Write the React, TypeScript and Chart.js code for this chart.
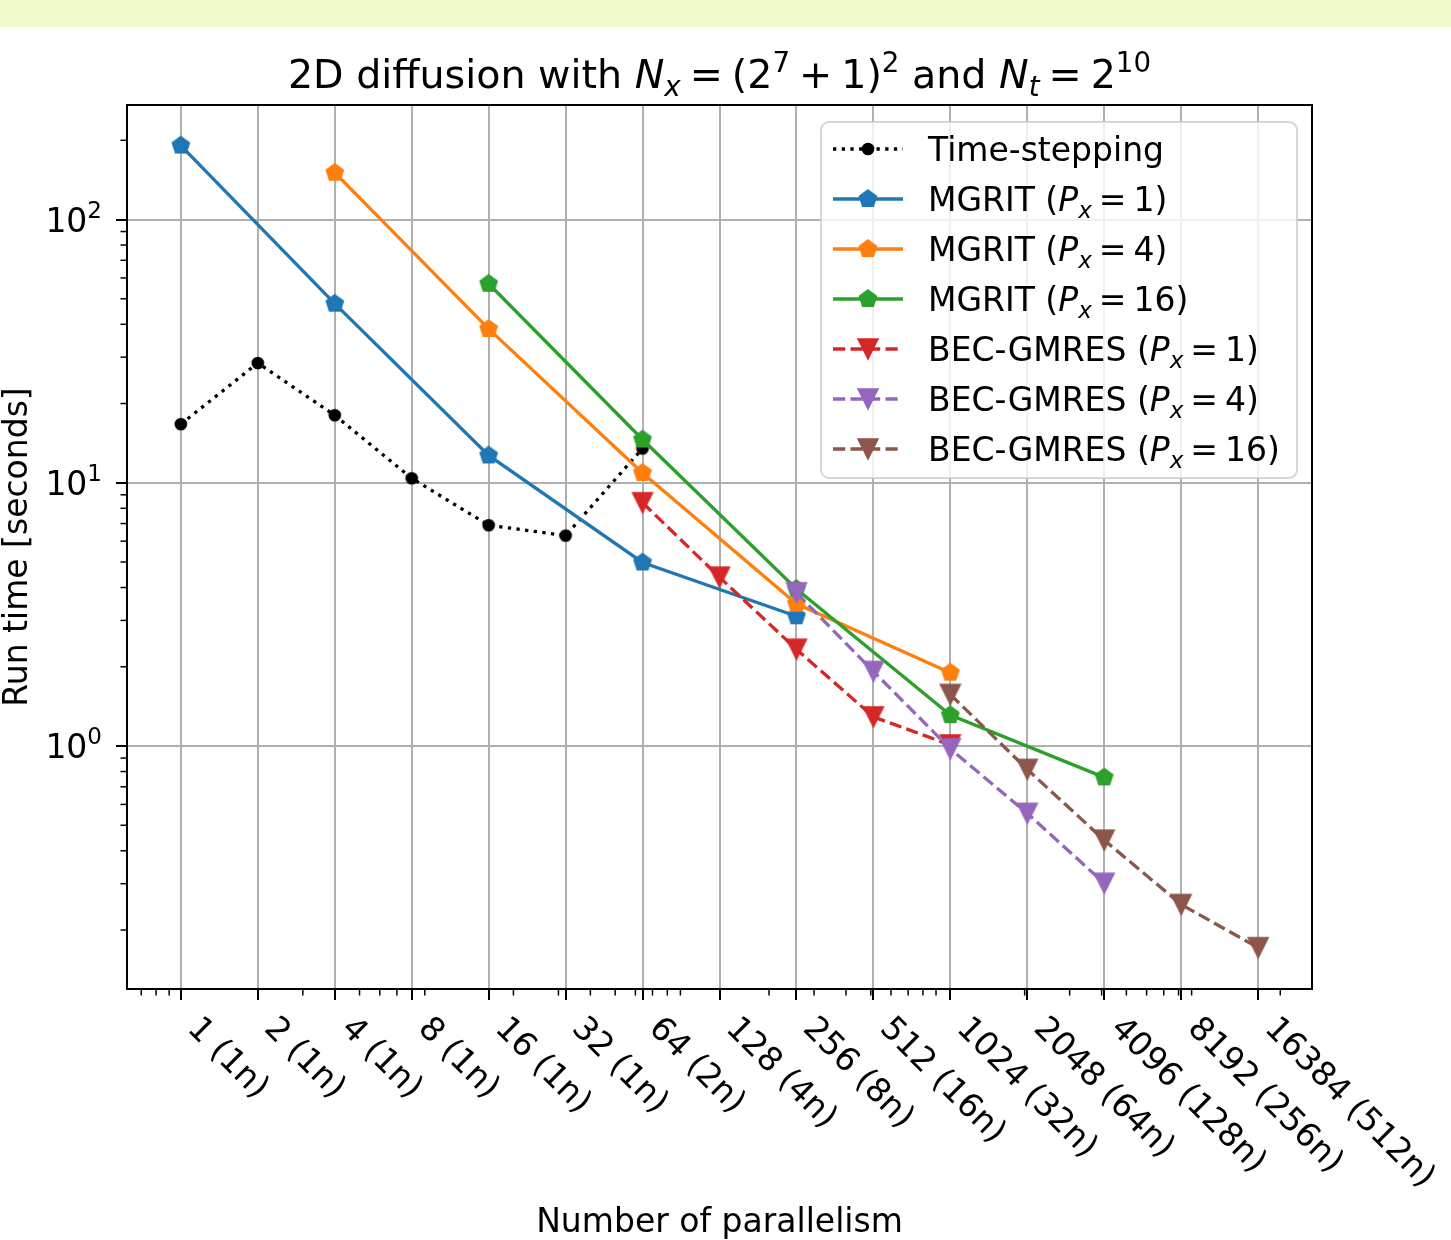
import { useEffect, useRef } from 'react';
import { Chart, registerables } from 'chart.js';

Chart.register(...registerables);

// ---------- data ----------
const xTicks = [1, 2, 4, 8, 16, 32, 64, 128, 256, 512, 1024, 2048, 4096, 8192, 16384];
const xTickLabels = [
  '1 (1n)', '2 (1n)', '4 (1n)', '8 (1n)', '16 (1n)', '32 (1n)', '64 (2n)', '128 (4n)',
  '256 (8n)', '512 (16n)', '1024 (32n)', '2048 (64n)', '4096 (128n)', '8192 (256n)', '16384 (512n)',
];
const yTicks = [1, 10, 100];
const yTickExps = ['0', '1', '2'];

const tsX = [1, 2, 4, 8, 16, 32, 64];
const tsY = [16.7, 28.5, 18.05, 10.4, 6.9, 6.3, 13.5];

const mg1X = [1, 4, 16, 64, 256];
const mg1Y = [191, 47.9, 12.7, 4.98, 3.11];

const mg4X = [4, 16, 64, 256, 1024];
const mg4Y = [150.6, 38.4, 10.9, 3.47, 1.9];

const mg16X = [16, 64, 256, 1024, 4096];
const mg16Y = [57, 14.6, 3.95, 1.31, 0.76];

const bec1X = [64, 128, 256, 512, 1024];
const bec1Y = [8.4, 4.38, 2.33, 1.29, 1.01];

const bec4X = [256, 512, 1024, 2048, 4096];
const bec4Y = [3.82, 1.92, 0.975, 0.555, 0.301];

const bec16X = [1024, 2048, 4096, 8192, 16384];
const bec16Y = [1.57, 0.815, 0.439, 0.25, 0.1714];

const seriesNames = ['Time-stepping', 'MGRIT', 'MGRIT', 'MGRIT', 'BEC-GMRES', 'BEC-GMRES', 'BEC-GMRES'];
const seriesPx = ['', '1', '4', '16', '1', '4', '16'];

// ---------- styling ----------
const W = 1451;
const H = 1240;
const BAND = '#f0fcce';
const FF = '"DejaVu Sans", "Liberation Sans", sans-serif';
const FS = 33;
const TFS = 39.6;
const LW = 3.3;
const DOT = [3.3, 5.4];
const DASH = [12.2, 5.3];

const XMIN = Math.pow(2, -0.7);
const XMAX = Math.pow(2, 14.7);
const YMIN = Math.pow(10, -0.923);
const YMAX = Math.pow(10, 2.435);

type Seg = { t: string; s: number; it?: boolean; dy?: number; g?: number };

function fontOf(seg: Seg) {
  return `${seg.it ? 'italic ' : ''}${seg.s}px ${FF}`;
}
function richWidth(ctx: CanvasRenderingContext2D, segs: Seg[]) {
  let w = 0;
  for (const s of segs) {
    ctx.font = fontOf(s);
    w += ctx.measureText(s.t).width + (s.g || 0);
  }
  return w;
}
function drawRich(ctx: CanvasRenderingContext2D, segs: Seg[], x: number, y: number, align: 'left' | 'center' | 'right') {
  const w = richWidth(ctx, segs);
  let cx = align === 'center' ? x - w / 2 : align === 'right' ? x - w : x;
  ctx.textAlign = 'left';
  ctx.textBaseline = 'alphabetic';
  for (const s of segs) {
    ctx.font = fontOf(s);
    if (s.t) ctx.fillText(s.t, cx, y + (s.dy || 0));
    cx += ctx.measureText(s.t).width + (s.g || 0);
  }
}

function makeMarker(kind: 'pent' | 'tri' | 'circ', color: string) {
  const c = document.createElement('canvas');
  c.width = 28;
  c.height = 28;
  const g = c.getContext('2d')!;
  g.fillStyle = color;
  g.strokeStyle = color;
  g.lineWidth = 1.5;
  g.lineJoin = 'miter';
  const cx = 14;
  const cy = 14;
  g.beginPath();
  if (kind === 'pent') {
    const R = 9;
    for (let k = 0; k < 5; k++) {
      const a = -Math.PI / 2 + (k * 2 * Math.PI) / 5;
      const px = cx + R * Math.cos(a);
      const py = cy + R * Math.sin(a);
      if (k === 0) g.moveTo(px, py);
      else g.lineTo(px, py);
    }
  } else if (kind === 'tri') {
    const h = 10;
    g.moveTo(cx, cy + h);
    g.lineTo(cx - h, cy - h);
    g.lineTo(cx + h, cy - h);
  } else {
    g.arc(cx, cy, 5.6, 0, Math.PI * 2);
  }
  g.closePath();
  g.fill();
  g.stroke();
  return c;
}

export default function App() {
  const ref = useRef<HTMLCanvasElement>(null);

  useEffect(() => {
    document.body.style.margin = '0';
    const canvas = ref.current!;

    const colors = ['#000000', '#1f77b4', '#ff7f0e', '#2ca02c', '#d62728', '#9467bd', '#8c564b'];
    const kinds: ('pent' | 'tri' | 'circ')[] = ['circ', 'pent', 'pent', 'pent', 'tri', 'tri', 'tri'];
    const dashes = [DOT, [], [], [], DASH, DASH, DASH];
    const xsArr = [tsX, mg1X, mg4X, mg16X, bec1X, bec4X, bec16X];
    const ysArr = [tsY, mg1Y, mg4Y, mg16Y, bec1Y, bec4Y, bec16Y];
    const markers = colors.map((c, i) => makeMarker(kinds[i], c));

    const datasets = xsArr.map((xs, i) => ({
      label: seriesNames[i] + (seriesPx[i] ? ` (Px=${seriesPx[i]})` : ''),
      data: xs.map((x, j) => ({ x, y: ysArr[i][j] })),
      borderColor: colors[i],
      backgroundColor: colors[i],
      borderWidth: LW,
      borderDash: dashes[i],
      borderCapStyle: 'butt' as const,
      tension: 0,
      fill: false,
      pointStyle: markers[i],
      pointRadius: 10,
      pointHoverRadius: 10,
      order: 7 - i,
    }));

    const decor = {
      id: 'decor',
      beforeDraw(chart: any) {
        const ctx: CanvasRenderingContext2D = chart.ctx;
        ctx.save();
        ctx.fillStyle = '#ffffff';
        ctx.fillRect(0, 0, W, H);
        ctx.fillStyle = BAND;
        ctx.fillRect(0, 0, W, 27);
        ctx.restore();
      },
      afterDraw(chart: any) {
        const ctx: CanvasRenderingContext2D = chart.ctx;
        const { left, right, top, bottom } = chart.chartArea;
        const xs = chart.scales.x;
        const ys = chart.scales.y;
        ctx.save();
        ctx.fillStyle = '#000';
        ctx.strokeStyle = '#000';

        // spines
        ctx.lineWidth = 2;
        ctx.strokeRect(left, top, right - left, bottom - top);

        const line = (x1: number, y1: number, x2: number, y2: number, w: number) => {
          ctx.lineWidth = w;
          ctx.beginPath();
          ctx.moveTo(x1, y1);
          ctx.lineTo(x2, y2);
          ctx.stroke();
        };
        // x ticks
        for (const v of xTicks) {
          const px = Math.round(xs.getPixelForValue(v));
          line(px, bottom, px, bottom + 11, 2);
        }
        for (let e = -1; e <= 4; e++) {
          for (let m = 2; m <= 9; m++) {
            const v = m * Math.pow(10, e);
            if (v < XMIN || v > XMAX) continue;
            const px = xs.getPixelForValue(v);
            line(px, bottom, px, bottom + 6.5, 1.5);
          }
        }
        // y ticks
        for (const v of yTicks) {
          const py = Math.round(ys.getPixelForValue(v));
          line(left, py, left - 11, py, 2);
        }
        for (let e = -1; e <= 2; e++) {
          for (let m = 2; m <= 9; m++) {
            const v = m * Math.pow(10, e);
            if (v < YMIN || v > YMAX) continue;
            const py = ys.getPixelForValue(v);
            line(left, py, left - 6.5, py, 1.5);
          }
        }

        // y tick labels
        yTicks.forEach((v, i) => {
          const py = ys.getPixelForValue(v);
          drawRich(ctx, [
            { t: '10', s: FS },
            { t: yTickExps[i], s: 23, dy: -14 },
          ], left - 25, py + 12, 'right');
        });

        // x tick labels (rotated -45deg)
        ctx.font = `${FS}px ${FF}`;
        xTicks.forEach((v, i) => {
          const px = xs.getPixelForValue(v);
          ctx.save();
          ctx.translate(px + 23, bottom + 23);
          ctx.rotate(Math.PI / 4);
          ctx.textAlign = 'left';
          ctx.textBaseline = 'top';
          ctx.fillText(xTickLabels[i], 0, 0);
          ctx.restore();
        });

        // axis labels
        ctx.font = `${FS}px ${FF}`;
        ctx.textAlign = 'center';
        ctx.textBaseline = 'alphabetic';
        ctx.fillText('Number of parallelism', (left + right) / 2, 1232);
        ctx.save();
        ctx.translate(27, (top + bottom) / 2);
        ctx.rotate(-Math.PI / 2);
        ctx.fillText('Run time [seconds]', 0, 0);
        ctx.restore();

        // title
        const sub = 27.7;
        const tg = 9;
        drawRich(ctx, [
          { t: '2D diffusion with ', s: TFS },
          { t: 'N', s: TFS, it: true },
          { t: 'x', s: sub, it: true, dy: 8, g: tg },
          { t: '=', s: TFS, g: tg },
          { t: '(2', s: TFS },
          { t: '7', s: sub, dy: -16, g: tg },
          { t: '+', s: TFS, g: tg },
          { t: '1)', s: TFS },
          { t: '2', s: sub, dy: -16 },
          { t: ' and ', s: TFS },
          { t: 'N', s: TFS, it: true },
          { t: 't', s: sub, it: true, dy: 8, g: tg },
          { t: '=', s: TFS, g: tg },
          { t: '2', s: TFS },
          { t: '10', s: sub, dy: -16 },
        ], (left + right) / 2, 88, 'center');

        // legend
        const lx0 = 821, ly0 = 122, lx1 = 1297, ly1 = 478, r = 8;
        ctx.beginPath();
        ctx.moveTo(lx0 + r, ly0);
        ctx.arcTo(lx1, ly0, lx1, ly1, r);
        ctx.arcTo(lx1, ly1, lx0, ly1, r);
        ctx.arcTo(lx0, ly1, lx0, ly0, r);
        ctx.arcTo(lx0, ly0, lx1, ly0, r);
        ctx.closePath();
        ctx.fillStyle = 'rgba(255,255,255,0.8)';
        ctx.fill();
        ctx.lineWidth = 2;
        ctx.strokeStyle = 'rgba(204,204,204,0.8)';
        ctx.stroke();

        const lg = 7;
        for (let i = 0; i < 7; i++) {
          const cy = 149 + i * 50;
          ctx.save();
          ctx.strokeStyle = colors[i];
          ctx.lineWidth = LW;
          ctx.lineCap = 'butt';
          ctx.setLineDash(dashes[i]);
          ctx.beginPath();
          ctx.moveTo(833, cy);
          ctx.lineTo(903, cy);
          ctx.stroke();
          ctx.restore();
          const mk = markers[i];
          ctx.drawImage(mk, 868 - mk.width / 2, cy - mk.height / 2);
          ctx.fillStyle = '#000';
          const segs: Seg[] = seriesPx[i]
            ? [
                { t: seriesNames[i] + ' (', s: FS },
                { t: 'P', s: FS, it: true },
                { t: 'x', s: 23, it: true, dy: 7, g: lg },
                { t: '=', s: FS, g: lg },
                { t: seriesPx[i] + ')', s: FS },
              ]
            : [{ t: seriesNames[i], s: FS }];
          drawRich(ctx, segs, 928, cy + 12, 'left');
        }
        ctx.restore();
      },
    };

    const chart = new Chart(canvas, {
      type: 'line',
      data: { datasets: datasets as any },
      options: {
        animation: false,
        responsive: false,
        devicePixelRatio: 1,
        events: [],
        layout: { padding: { left: 127, top: 105, right: 139, bottom: 251 } },
        plugins: {
          legend: { display: false },
          tooltip: { enabled: false },
          title: { display: false },
        },
        scales: {
          x: {
            type: 'logarithmic',
            min: XMIN,
            max: XMAX,
            bounds: 'data',
            afterBuildTicks: (ax: any) => {
              ax.ticks = xTicks.map((v) => ({ value: v }));
            },
            grid: { color: '#b0b0b0', lineWidth: 2, drawTicks: false },
            border: { display: false },
            ticks: { display: false },
          },
          y: {
            type: 'logarithmic',
            min: YMIN,
            max: YMAX,
            bounds: 'data',
            afterBuildTicks: (ax: any) => {
              ax.ticks = yTicks.map((v) => ({ value: v }));
            },
            grid: { color: '#b0b0b0', lineWidth: 2, drawTicks: false },
            border: { display: false },
            ticks: { display: false },
          },
        },
      } as any,
      plugins: [decor],
    });
    return () => chart.destroy();
  }, []);

  return <canvas ref={ref} width={W} height={H} style={{ display: 'block' }} />;
}
